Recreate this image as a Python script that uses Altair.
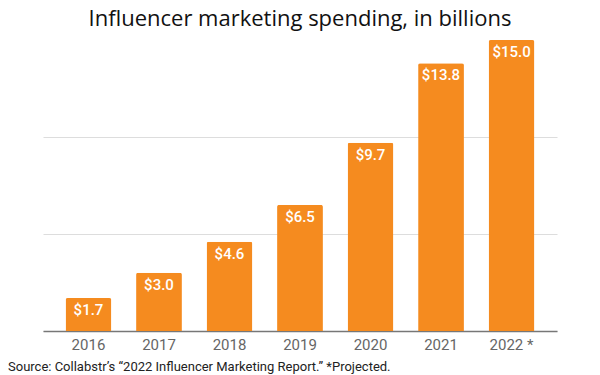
import altair as alt
import pandas as pd

years = ["2016", "2017", "2018", "2019", "2020", "2021", "2022 *"]
spending = [1.7, 3.0, 4.6, 6.5, 9.7, 13.8, 15.0]
labels = ["$1.7", "$3.0", "$4.6", "$6.5", "$9.7", "$13.8", "$15.0"]
grid_values = [0, 5, 10]

df = pd.DataFrame({"year": years, "value": spending, "label": labels})

x = alt.X("year:N", sort=years, title=None,
          scale=alt.Scale(paddingInner=0.35, paddingOuter=0.32),
          axis=alt.Axis(labelAngle=0, labelFont="Roboto", labelFontSize=15,
                        labelColor="#666666", labelPadding=6, ticks=False,
                        domain=True, domainColor="#777777", domainWidth=1.5,
                        grid=False))
y = alt.Y("value:Q", title=None, scale=alt.Scale(domain=[0, 15], nice=False),
          axis=alt.Axis(values=grid_values, labels=False, ticks=False,
                        domain=False, grid=True, gridColor="#dddddd",
                        gridWidth=1))

base = alt.Chart(df)
bars = base.mark_bar(color="#F58B1F", cornerRadiusTopLeft=2,
                     cornerRadiusTopRight=2).encode(x=x, y=y)
text = base.mark_text(color="white", font="Roboto", fontSize=15,
                      fontWeight=500, baseline="middle", dy=12).encode(
    x=alt.X("year:N", sort=years), y="value:Q", text="label:N")
source = alt.Chart(pd.DataFrame({"t": ["Source: Collabstr\u2019s \u201c2022 Influencer Marketing Report.\u201d *Projected."]})).mark_text(
    align="left", baseline="middle", font="Roboto", fontSize=13, color="#222222"
).encode(x=alt.value(-35), y=alt.value(327), text="t:N")

chart = alt.layer(bars, text, source).properties(
    width=514, height=291,
    autosize=alt.AutoSizeParams(type="none"),
    padding={"left": 35, "top": 32, "right": 35, "bottom": 50},
    title=alt.TitleParams("Influencer marketing spending, in billions",
                          font="Open Sans", fontSize=22, fontWeight="normal",
                          color="#111111", anchor="middle", offset=9),
).configure_view(stroke=None)

chart.save("out.html", embed_options={"renderer": "svg", "actions": False})
